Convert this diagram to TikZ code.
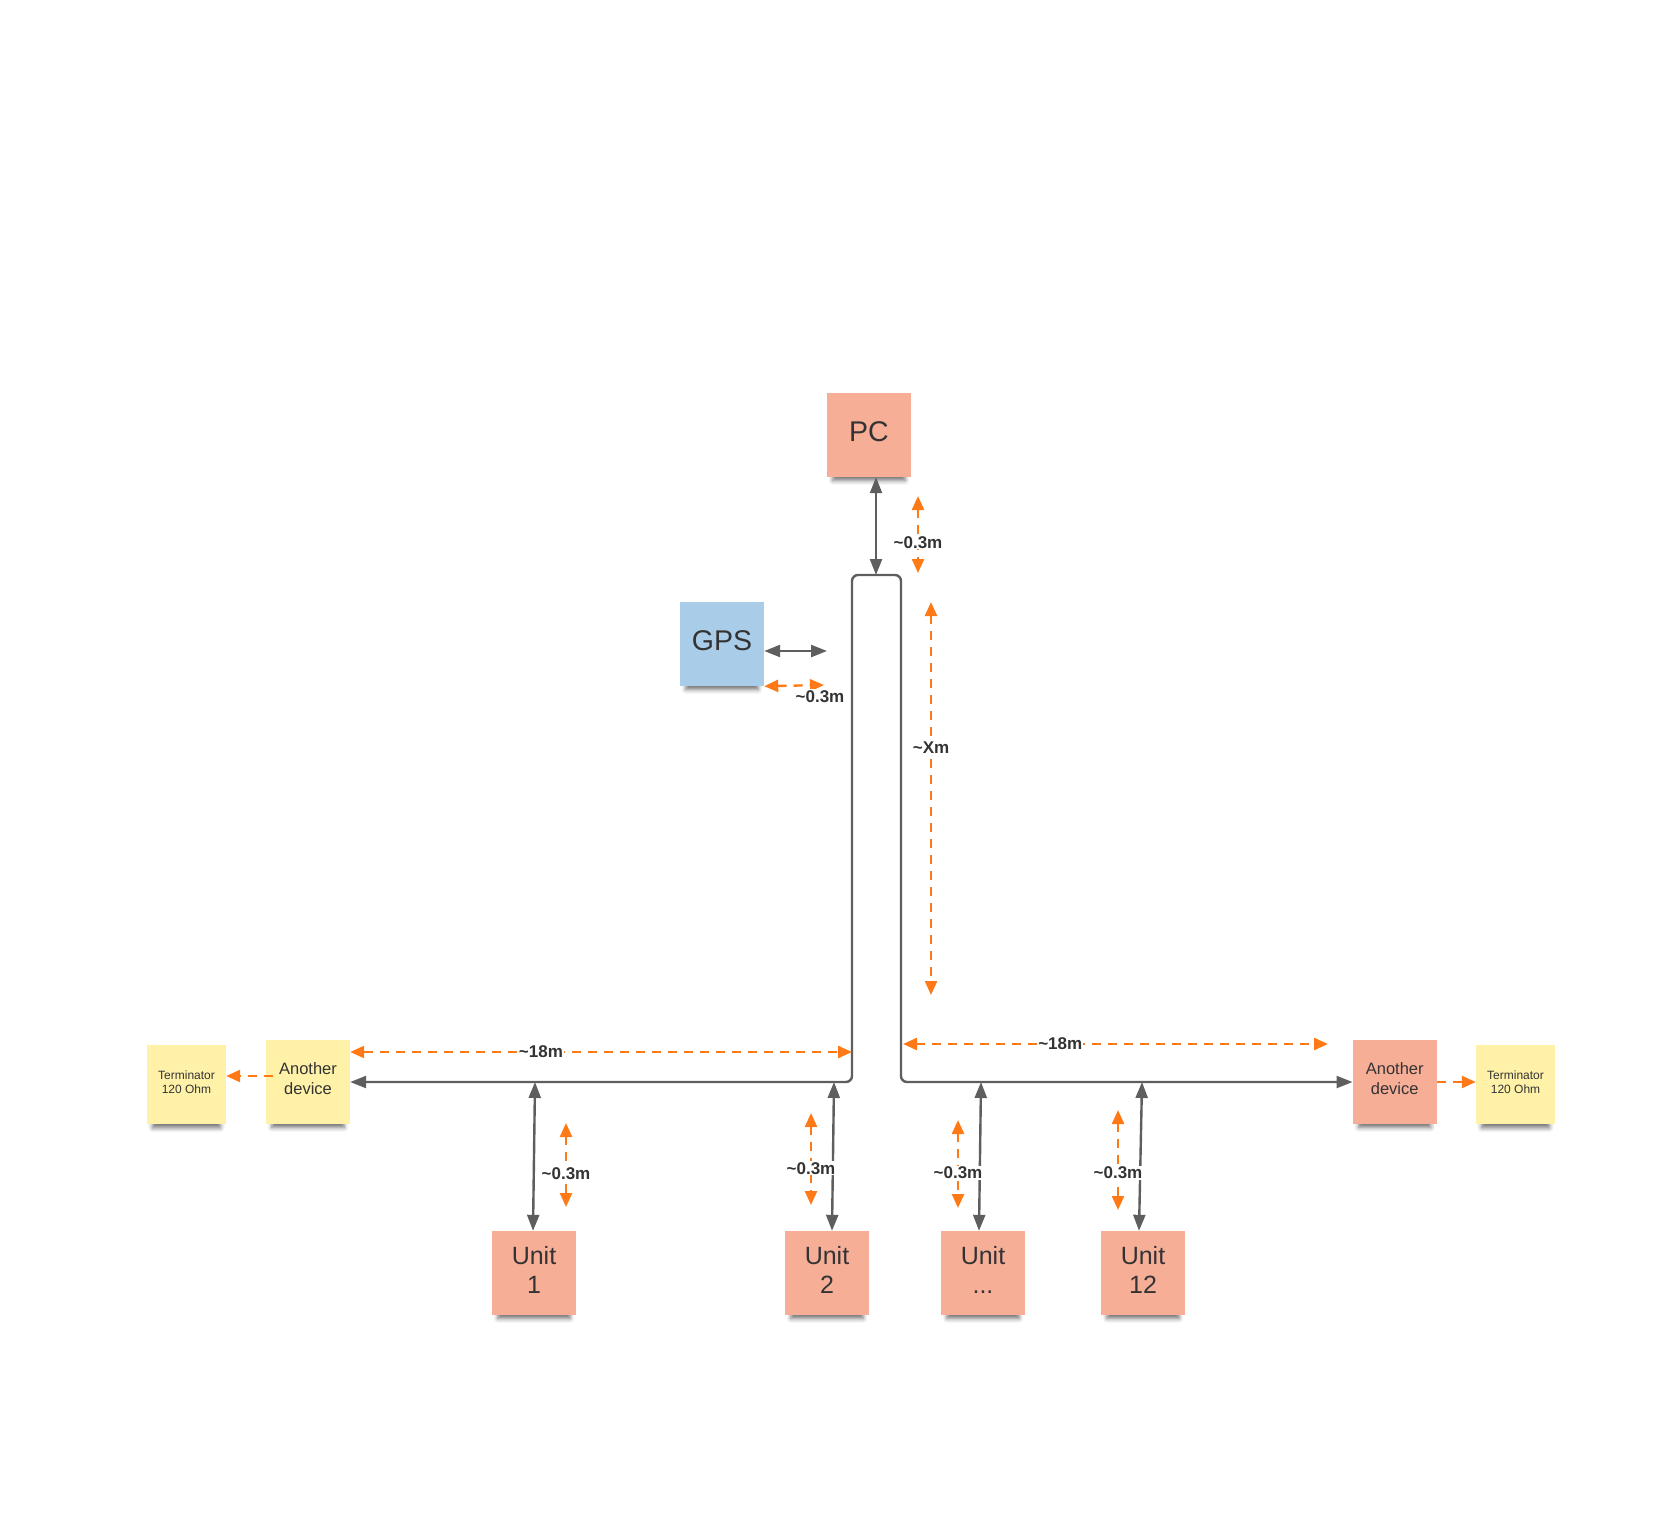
\documentclass[tikz,border=0pt]{standalone}
\usepackage{fontspec}
\setmainfont{Liberation Sans}
\usetikzlibrary{arrows.meta, shadows.blur}
\definecolor{salmon}{RGB}{247,174,151}
\definecolor{sky}{RGB}{169,204,233}
\definecolor{note}{RGB}{255,241,168}
\definecolor{wire}{RGB}{94,94,94}
\definecolor{amber}{RGB}{255,122,22}
\definecolor{ink}{RGB}{51,51,51}
\begin{document}
\begin{tikzpicture}[x=1pt, y=-1pt,
  box/.style={minimum size=84pt, inner sep=0pt, align=center, text=ink, text depth=6pt,
    blur shadow={shadow xshift=0pt, shadow yshift=-11pt, shadow scale=0.86, shadow blur radius=5pt, shadow opacity=55}},
  big/.style={box, font=\fontsize{28.5}{30}\selectfont},
  unit/.style={box, fill=salmon, font=\fontsize{25}{29}\selectfont},
  dev/.style={box, font=\fontsize{16.5}{20}\selectfont},
  term/.style={box, minimum size=79pt, fill=note, text depth=4pt, font=\fontsize{12}{14}\selectfont},
  link/.style={draw=wire, line width=2.4pt, {Triangle[length=16pt,width=12pt]}-{Triangle[length=16pt,width=12pt]}},
  span/.style={draw=amber, line width=2.4pt, dash pattern=on 9pt off 7pt, {Triangle[length=14pt,width=12pt]}-{Triangle[length=14pt,width=12pt]}},
  lbl/.style={fill=white, inner sep=1pt, text=ink, font=\bfseries\fontsize{17}{17}\selectfont}]
  \useasboundingbox (0,0) rectangle (1669,1533);

  \node[big, fill=salmon] (pc) at (869,435) {PC};
  \node[big, fill=sky] (gps) at (722,644) {GPS};
  \node[dev, fill=note] (devL) at (308,1082) {Another\\device};
  \node[dev, fill=salmon] (devR) at (1394.7,1082) {Another\\device};
  \node[term] (termL) at (186.5,1084.5) {Terminator\\120 Ohm};
  \node[term] (termR) at (1515.5,1084.5) {Terminator\\120 Ohm};
  \node[unit] (u1) at (534,1273) {Unit\\1};
  \node[unit] (u2) at (827,1273) {Unit\\2};
  \node[unit] (u3) at (983,1273) {Unit\\...};
  \node[unit] (u12) at (1143,1273) {Unit\\12};

  \coordinate (busTL) at (852,575);
  \coordinate (busTR) at (901,575);
  \coordinate (tapPC) at (876,575);
  \coordinate (tapGPS) at (827,651);
  \coordinate (tap1) at (535,1082);
  \coordinate (tap2) at (834,1082);
  \coordinate (tap3) at (981,1082);
  \coordinate (tap12) at (1142,1082);

  \draw[link, rounded corners=6pt] (devL.east) -| (busTL) -- (busTR) |- (devR.west);
  \draw[link] (pc.south -| tapPC) -- (tapPC);
  \draw[link] (gps.east |- tapGPS) -- (tapGPS);
  \draw[link] (tap1) -- ([xshift=-1pt]u1.north);
  \draw[link] (tap2) -- ([xshift=5pt]u2.north);
  \draw[link] (tap3) -- ([xshift=-4pt]u3.north);
  \draw[link] (tap12) -- ([xshift=-4pt]u12.north);

  \draw[span] (918,496) -- node[lbl, pos=0.6] {\textasciitilde0.3m} (918,573);
  \draw[span] (gps.south east) -- (824,685) node[lbl, below, xshift=-4pt, yshift=-3pt] {\textasciitilde0.3m};
  \draw[span] (931,602) -- node[lbl, pos=0.37] {\textasciitilde Xm} (931,995);
  \draw[span] (devL.east |- 0,1052) -- node[lbl, pos=0.38] {\textasciitilde18m} (busTL |- 0,1052);
  \draw[span] (903,1044) -- node[lbl, pos=0.37] {\textasciitilde18m} (1328,1044);
  \draw[span] (566,1123) -- node[lbl, pos=0.6] {\textasciitilde0.3m} (566,1207);
  \draw[span] (811,1113) -- node[lbl, pos=0.6] {\textasciitilde0.3m} (811,1205);
  \draw[span] (958,1120) -- node[lbl, pos=0.6] {\textasciitilde0.3m} (958,1208);
  \draw[span] (1118,1110) -- node[lbl, pos=0.63] {\textasciitilde0.3m} (1118,1210);
  \draw[span, {}-{Triangle[length=14pt,width=12pt]}] ([xshift=7pt]devL.west |- 0,1076) -- (termL.east |- 0,1076);
  \draw[span, {}-{Triangle[length=14pt,width=12pt]}] (devR.east) -- (termR.west |- devR.east);
\end{tikzpicture}
\end{document}
